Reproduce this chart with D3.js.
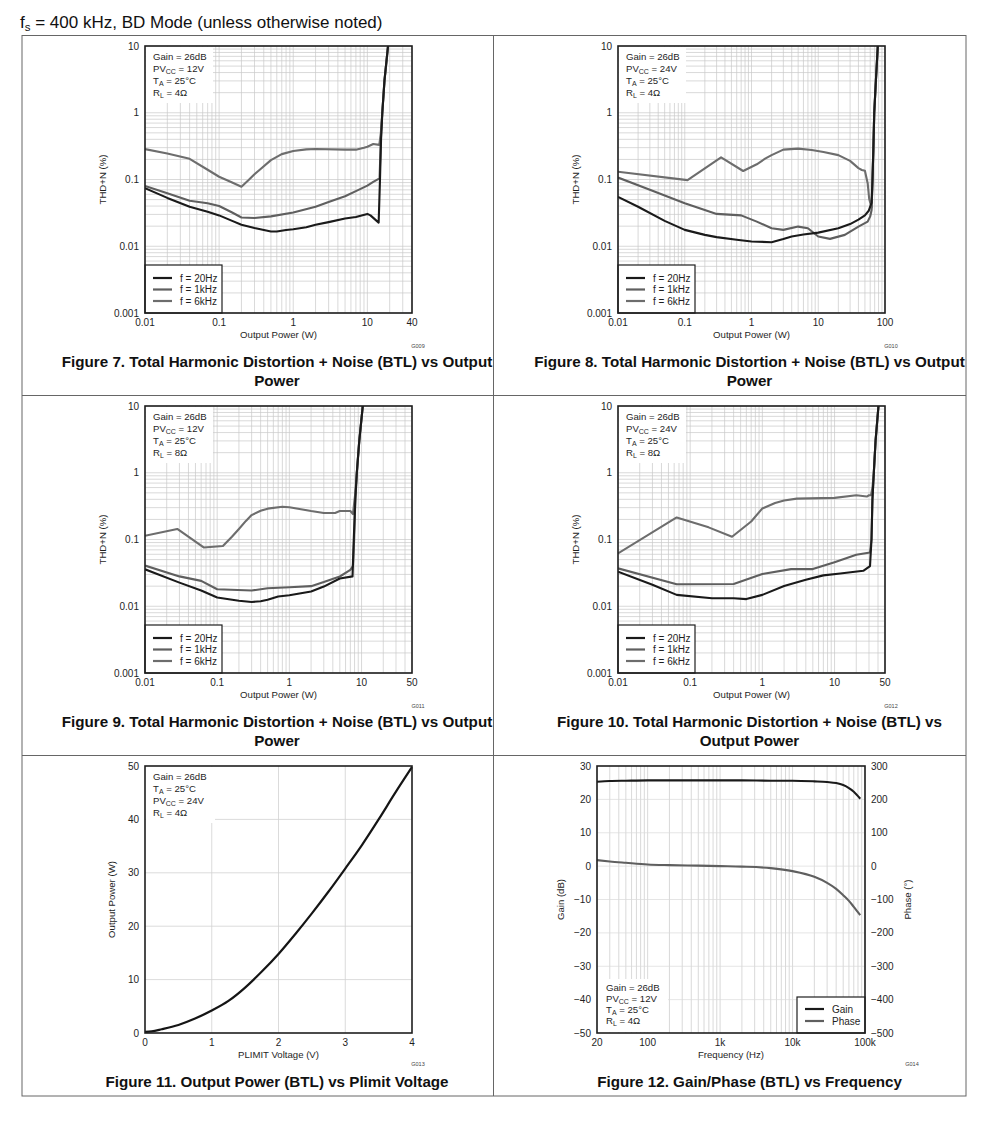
<!DOCTYPE html>
<html><head><meta charset="utf-8">
<script src="https://cdn.jsdelivr.net/npm/d3@7"></script>
<style>
body{margin:0;background:#fff;}
svg{display:block;font-family:"Liberation Sans",Arial,Helvetica,sans-serif;}
</style>
</head><body>
<svg id="c" width="1000" height="1127"></svg>
<script>
// ---------- DATA ----------
const thdTicksY = [0.001, 0.01, 0.1, 1, 10];
const thdTickLabelsY = ["0.001", "0.01", "0.1", "1", "10"];
const fig7TicksX = [0.01, 0.1, 1, 10, 40];
const fig8TicksX = [0.01, 0.1, 1, 10, 100];
const fig9TicksX = [0.01, 0.1, 1, 10, 50];
const fig10TicksX = [0.01, 0.1, 1, 10, 50];
const legendLabels = ["f = 20Hz", "f = 1kHz", "f = 6kHz"];

// Figure 7 (PVcc 12V, RL 4Ω)  [power W, THD+N %]
const fig7_20Hz = [[0.01,0.074],[0.02,0.053],[0.04,0.039],[0.07,0.033],[0.1,0.029],[0.15,0.024],[0.2,0.021],[0.3,0.0188],[0.5,0.0166],[0.6,0.0166],[0.8,0.0175],[1,0.018],[1.5,0.0193],[2,0.021],[3,0.023],[5,0.026],[7,0.0275],[10,0.0305],[11,0.029],[14.2,0.0226],[14.8,0.1],[15.3,0.4],[15.9,1],[17,3],[19,10]];
const fig7_1kHz = [[0.01,0.08],[0.02,0.062],[0.04,0.048],[0.07,0.044],[0.1,0.04],[0.15,0.032],[0.2,0.027],[0.3,0.0265],[0.5,0.028],[1,0.032],[2,0.039],[3,0.046],[5,0.056],[7,0.067],[10,0.081],[12,0.092],[14.6,0.104],[15.2,0.4],[15.9,1],[17,3],[19,10]];
const fig7_6kHz = [[0.01,0.285],[0.02,0.245],[0.04,0.204],[0.07,0.14],[0.1,0.11],[0.15,0.09],[0.2,0.078],[0.25,0.098],[0.3,0.12],[0.35,0.139],[0.5,0.195],[0.7,0.24],[1,0.268],[1.5,0.283],[2,0.286],[5,0.28],[7,0.28],[9,0.3],[10,0.31],[12,0.34],[14.5,0.33],[15.2,0.5],[15.9,1],[17,3],[19,10]];

// Figure 8 (PVcc 24V, RL 4Ω)
const fig8_20Hz = [[0.01,0.055],[0.02,0.039],[0.05,0.024],[0.1,0.0176],[0.2,0.0148],[0.3,0.0137],[0.6,0.0125],[1,0.0118],[2,0.0115],[3,0.0128],[4,0.014],[6,0.015],[10,0.016],[20,0.0186],[30,0.0215],[40,0.025],[50,0.029],[57,0.034],[63,0.045],[65,0.1],[67,0.3],[69,1],[73,3],[78,10]];
const fig8_1kHz = [[0.01,0.107],[0.03,0.07],[0.1,0.044],[0.3,0.0305],[0.7,0.029],[1.2,0.0234],[2,0.0186],[3,0.0176],[5,0.0197],[7,0.0186],[10,0.014],[15,0.0129],[25,0.0148],[40,0.0197],[55,0.0234],[60,0.028],[63,0.035],[65,0.1],[67,0.3],[69,1],[73,3],[78,10]];
const fig8_6kHz = [[0.01,0.131],[0.11,0.098],[0.35,0.215],[0.75,0.134],[1.2,0.169],[1.6,0.205],[2,0.232],[3,0.28],[5,0.29],[8,0.276],[12,0.258],[20,0.232],[30,0.19],[40,0.148],[45,0.139],[50,0.135],[55,0.088],[58,0.051],[63,0.038],[65,0.1],[67,0.3],[69,1],[73,3],[78,10]];

// Figure 9 (PVcc 12V, RL 8Ω)
const fig9_20Hz = [[0.01,0.0358],[0.03,0.0226],[0.06,0.0172],[0.1,0.0135],[0.2,0.0121],[0.3,0.0116],[0.4,0.0119],[0.5,0.0125],[0.7,0.014],[1,0.0146],[2,0.0166],[3,0.0197],[5,0.026],[7.5,0.028],[7.8,0.1],[8.2,0.4],[8.6,1],[9.3,3],[10.4,10]];
const fig9_1kHz = [[0.01,0.0407],[0.03,0.028],[0.06,0.024],[0.1,0.018],[0.3,0.0172],[0.5,0.0186],[1,0.0193],[2,0.02],[3,0.023],[5,0.0279],[7,0.035],[7.6,0.04],[7.9,0.1],[8.2,0.4],[8.6,1],[9.3,3],[10.4,10]];
const fig9_6kHz = [[0.01,0.114],[0.028,0.144],[0.065,0.076],[0.12,0.08],[0.16,0.11],[0.2,0.144],[0.25,0.19],[0.3,0.232],[0.4,0.27],[0.5,0.29],[0.8,0.31],[1,0.305],[2,0.267],[3,0.25],[4.3,0.25],[5,0.267],[7,0.267],[7.6,0.24],[8.2,0.5],[8.6,1],[9.3,3],[10.4,10]];

// Figure 10 (PVcc 24V, RL 8Ω)
const fig10_20Hz = [[0.01,0.033],[0.03,0.021],[0.065,0.0148],[0.2,0.0132],[0.4,0.0132],[0.6,0.0128],[1,0.0148],[2,0.0201],[4,0.025],[7,0.029],[12,0.031],[25,0.034],[31,0.04],[32.5,0.1],[33.5,0.4],[35,1],[37,3],[40.6,10]];
const fig10_1kHz = [[0.01,0.037],[0.065,0.0214],[0.4,0.0216],[1,0.0305],[2.5,0.036],[5,0.036],[10,0.0457],[20,0.059],[31,0.064],[32.5,0.1],[33.5,0.4],[35,1],[37,3],[40.6,10]];
const fig10_6kHz = [[0.01,0.062],[0.065,0.214],[0.18,0.152],[0.38,0.11],[0.7,0.186],[1,0.292],[1.5,0.353],[2,0.385],[3,0.41],[10,0.42],[20,0.46],[28,0.44],[30,0.46],[32,0.46],[33.5,0.6],[35,1],[37,3],[40.6,10]];

// Figure 11 (PLIMIT voltage vs output power)
const plimitVoltage = [0, 0.1, 0.25, 0.5, 0.75, 1, 1.25, 1.5, 1.75, 2, 2.25, 2.5, 2.75, 3, 3.25, 3.5, 3.75, 4];
const plimitPower   = [0.2, 0.3, 0.7, 1.5, 2.7, 4.2, 6.0, 8.5, 11.5, 14.8, 18.5, 22.4, 26.5, 30.8, 35.2, 40, 45, 49.8];
const fig11TicksX = [0, 1, 2, 3, 4];
const fig11TicksY = [0, 10, 20, 30, 40, 50];

// Figure 12 (Gain / Phase vs frequency)
const freqHz   = [20, 30, 50, 100, 200, 500, 1000, 2000, 5000, 10000, 20000, 30000, 40000, 50000, 60000, 70000, 86000];
const gainDb   = [25.3, 25.5, 25.6, 25.7, 25.7, 25.7, 25.7, 25.7, 25.6, 25.6, 25.4, 25.2, 24.9, 24.3, 23.4, 22.3, 20.2];
const phaseDeg = [18, 14, 10, 5, 3, 1.5, 0, -1.5, -6, -15, -32, -50, -68, -87, -104, -122, -147];
const fig12TicksX = [20, 100, 1000, 10000, 100000];
const fig12TickLabelsX = ["20", "100", "1k", "10k", "100k"];
const fig12TicksGain = [-50, -40, -30, -20, -10, 0, 10, 20, 30];
const fig12TicksPhase = [-500, -400, -300, -200, -100, 0, 100, 200, 300];

// ---------- DRAWING ----------
const svg = d3.select("#c");
const INK = "#1e1e1e";
const seriesColors = ["#1a1a1a", "#5f5f5f", "#6d6d6d"];
const GRID = "#c9c9c9";

function minus(v){ return String(v).replace("-", "\u2212"); }

function logGridValues(min, max){
  const out = [];
  for (let d = Math.floor(Math.log10(min)); d <= Math.ceil(Math.log10(max)); d++){
    for (let m = 1; m <= 9; m++){
      const v = m * Math.pow(10, d);
      if (v >= min * 0.9999 && v <= max * 1.0001) out.push(v);
    }
  }
  return out;
}

function annotation(g, x, y0, lines, step){
  lines.forEach((ln, i) => {
    const t = g.append("text").attr("x", x).attr("y", y0 + i * step)
      .attr("font-size", 9.6).attr("fill", INK);
    t.append("tspan").text(ln[0]);
    if (ln[1]) {
      t.append("tspan").attr("font-size", 7).attr("dy", 2).text(ln[1]);
      t.append("tspan").attr("dy", -2).text(ln[2]);
    }
  });
}

function frame(g, L, T, W, H){
  g.append("rect").attr("x", L).attr("y", T).attr("width", W).attr("height", H)
    .attr("fill", "none").attr("stroke", INK).attr("stroke-width", 1.6);
}

function thdPanel(opt){
  const {L, T, W, H, xMax, ticksX, series, cond, gid, ylabX} = opt;
  const g = svg.append("g");
  const x = d3.scaleLog().domain([0.01, xMax]).range([L, L + W]);
  const y = d3.scaleLog().domain([0.001, 10]).range([T + H, T]);
  g.selectAll(null).data(logGridValues(0.01, xMax)).enter().append("line")
    .attr("x1", d => x(d)).attr("x2", d => x(d)).attr("y1", T).attr("y2", T + H)
    .attr("stroke", GRID).attr("stroke-width", 0.7);
  g.selectAll(null).data(logGridValues(0.001, 10)).enter().append("line")
    .attr("y1", d => y(d)).attr("y2", d => y(d)).attr("x1", L).attr("x2", L + W)
    .attr("stroke", GRID).attr("stroke-width", 0.7);
  g.append("rect").attr("x", L + 1).attr("y", T + 1).attr("width", 67).attr("height", 56).attr("fill", "#fff");
  annotation(g, L + 8, T + 14, cond, 12);
  const line = d3.line().x(d => x(d[0])).y(d => y(d[1])).curve(d3.curveLinear);
  const clipId = "clip" + gid;
  svg.append("clipPath").attr("id", clipId).append("rect").attr("x", L).attr("y", T).attr("width", W).attr("height", H);
  const cg = g.append("g").attr("clip-path", `url(#${clipId})`);
  [2, 1, 0].forEach(i => {
    cg.append("path").attr("d", line(series[i])).attr("fill", "none")
      .attr("stroke", seriesColors[i]).attr("stroke-width", 2.1).attr("stroke-linejoin", "round");
  });
  const lg = g.append("g");
  lg.append("rect").attr("x", L).attr("y", T + H - 48).attr("width", 77).attr("height", 48)
    .attr("fill", "#fff").attr("stroke", INK).attr("stroke-width", 1.2);
  legendLabels.forEach((lab, i) => {
    const yy = T + H - 35 + i * 11.5;
    lg.append("line").attr("x1", L + 8).attr("x2", L + 27).attr("y1", yy).attr("y2", yy)
      .attr("stroke", seriesColors[i]).attr("stroke-width", 2.2);
    lg.append("text").attr("x", L + 35).attr("y", yy + 3.5).attr("font-size", 10).attr("fill", INK).text(lab);
  });
  frame(g, L, T, W, H);
  g.selectAll(null).data(thdTicksY).enter().append("text")
    .attr("x", L - 6).attr("y", d => y(d) + 3.5).attr("text-anchor", "end")
    .attr("font-size", 10).attr("fill", INK).text((d, i) => thdTickLabelsY[i]);
  g.selectAll(null).data(ticksX).enter().append("text")
    .attr("x", d => x(d)).attr("y", T + H + 13).attr("text-anchor", "middle")
    .attr("font-size", 10).attr("fill", INK).text(d => String(d));
  g.append("text").attr("x", L + W / 2).attr("y", T + H + 24.5).attr("text-anchor", "middle")
    .attr("font-size", 9.6).attr("fill", INK).text("Output Power (W)");
  g.append("text").attr("transform", `translate(${ylabX},${T + H / 2}) rotate(-90)`)
    .attr("text-anchor", "middle").attr("font-size", 9.6).attr("fill", INK).text("THD+N (%)");
  g.append("text").attr("x", L + W + 6).attr("y", T + H + 35).attr("text-anchor", "middle")
    .attr("font-size", 5.5).attr("fill", "#444").text(gid);
}

function caption(cx, y, lines){
  lines.forEach((t, i) => {
    svg.append("text").attr("x", cx).attr("y", y + i * 19).attr("text-anchor", "middle")
      .attr("font-size", 15.2).attr("font-weight", "bold").attr("fill", "#111").text(t);
  });
}

// page title
const title = svg.append("text").attr("x", 20).attr("y", 28).attr("font-size", 17).attr("fill", "#111");
title.append("tspan").text("f");
title.append("tspan").attr("font-size", 11.5).attr("dy", 3).text("s");
title.append("tspan").attr("dy", -3).text(" = 400 kHz, BD Mode (unless otherwise noted)");

// table frame
const tbl = svg.append("g").attr("stroke", "#666").attr("stroke-width", 1).attr("fill", "none");
tbl.append("rect").attr("x", 22).attr("y", 35.5).attr("width", 944).attr("height", 1060.5);
tbl.append("line").attr("x1", 493.5).attr("x2", 493.5).attr("y1", 35.5).attr("y2", 1096);
tbl.append("line").attr("x1", 22).attr("x2", 966).attr("y1", 395.5).attr("y2", 395.5);
tbl.append("line").attr("x1", 22).attr("x2", 966).attr("y1", 755.5).attr("y2", 755.5);

const c12_4 = [["Gain = 26dB"], ["PV", "CC", " = 12V"], ["T", "A", " = 25°C"], ["R", "L", " = 4Ω"]];
const c24_4 = [["Gain = 26dB"], ["PV", "CC", " = 24V"], ["T", "A", " = 25°C"], ["R", "L", " = 4Ω"]];
const c12_8 = [["Gain = 26dB"], ["PV", "CC", " = 12V"], ["T", "A", " = 25°C"], ["R", "L", " = 8Ω"]];
const c24_8 = [["Gain = 26dB"], ["PV", "CC", " = 24V"], ["T", "A", " = 25°C"], ["R", "L", " = 8Ω"]];

thdPanel({L:145, T:46, W:267, H:267, xMax:40, ticksX:fig7TicksX, series:[fig7_20Hz, fig7_1kHz, fig7_6kHz], cond:c12_4, gid:"G009", ylabX:106});
thdPanel({L:618, T:46, W:267, H:267, xMax:100, ticksX:fig8TicksX, series:[fig8_20Hz, fig8_1kHz, fig8_6kHz], cond:c24_4, gid:"G010", ylabX:579});
thdPanel({L:145, T:406, W:267, H:267, xMax:50, ticksX:fig9TicksX, series:[fig9_20Hz, fig9_1kHz, fig9_6kHz], cond:c12_8, gid:"G011", ylabX:106});
thdPanel({L:618, T:406, W:267, H:267, xMax:50, ticksX:fig10TicksX, series:[fig10_20Hz, fig10_1kHz, fig10_6kHz], cond:c24_8, gid:"G012", ylabX:579});

caption(277, 367, ["Figure 7. Total Harmonic Distortion + Noise (BTL) vs Output", "Power"]);
caption(749.5, 367, ["Figure 8. Total Harmonic Distortion + Noise (BTL) vs Output", "Power"]);
caption(277, 727, ["Figure 9. Total Harmonic Distortion + Noise (BTL) vs Output", "Power"]);
caption(749.5, 727, ["Figure 10. Total Harmonic Distortion + Noise (BTL) vs", "Output Power"]);
caption(277, 1087, ["Figure 11. Output Power (BTL) vs Plimit Voltage"]);
caption(749.5, 1087, ["Figure 12. Gain/Phase (BTL) vs Frequency"]);

// ---- Figure 11 ----
(function(){
  const L = 145, T = 766, W = 267, H = 267;
  const g = svg.append("g");
  const x = d3.scaleLinear().domain([0, 4]).range([L, L + W]);
  const y = d3.scaleLinear().domain([0, 50]).range([T + H, T]);
  g.selectAll(null).data([1, 2, 3]).enter().append("line")
    .attr("x1", d => x(d)).attr("x2", d => x(d)).attr("y1", T).attr("y2", T + H)
    .attr("stroke", "#d2d2d2").attr("stroke-width", 0.8);
  g.selectAll(null).data([10, 20, 30, 40]).enter().append("line")
    .attr("y1", d => y(d)).attr("y2", d => y(d)).attr("x1", L).attr("x2", L + W)
    .attr("stroke", "#d2d2d2").attr("stroke-width", 0.8);
  g.append("rect").attr("x", L + 1).attr("y", T + 1).attr("width", 69).attr("height", 56).attr("fill", "#fff");
  annotation(g, L + 8, T + 14, [["Gain = 26dB"], ["T", "A", " = 25°C"], ["PV", "CC", " = 24V"], ["R", "L", " = 4Ω"]], 12);
  const pts = plimitVoltage.map((v, i) => [v, plimitPower[i]]);
  g.append("path").attr("d", d3.line().x(d => x(d[0])).y(d => y(d[1])).curve(d3.curveMonotoneX)(pts))
    .attr("fill", "none").attr("stroke", "#151515").attr("stroke-width", 2.2);
  frame(g, L, T, W, H);
  g.selectAll(null).data(fig11TicksY).enter().append("text")
    .attr("x", L - 6).attr("y", d => y(d) + 3.5).attr("text-anchor", "end")
    .attr("font-size", 10).attr("fill", INK).text(d => d);
  g.selectAll(null).data(fig11TicksX).enter().append("text")
    .attr("x", d => x(d)).attr("y", T + H + 13).attr("text-anchor", "middle")
    .attr("font-size", 10).attr("fill", INK).text(d => d);
  g.append("text").attr("x", L + W / 2).attr("y", T + H + 24.5).attr("text-anchor", "middle")
    .attr("font-size", 9.6).attr("fill", INK).text("PLIMIT Voltage (V)");
  g.append("text").attr("transform", `translate(${115},${T + H / 2}) rotate(-90)`)
    .attr("text-anchor", "middle").attr("font-size", 9.6).attr("fill", INK).text("Output Power (W)");
  g.append("text").attr("x", L + W + 6).attr("y", T + H + 33).attr("text-anchor", "middle")
    .attr("font-size", 5.5).attr("fill", "#444").text("G013");
})();

// ---- Figure 12 ----
(function(){
  const L = 597, T = 766, W = 268, H = 267;
  const g = svg.append("g");
  const x = d3.scaleLog().domain([20, 100000]).range([L, L + W]);
  const yG = d3.scaleLinear().domain([-50, 30]).range([T + H, T]);
  const yP = d3.scaleLinear().domain([-500, 300]).range([T + H, T]);
  g.selectAll(null).data(logGridValues(20, 100000)).enter().append("line")
    .attr("x1", d => x(d)).attr("x2", d => x(d)).attr("y1", T).attr("y2", T + H)
    .attr("stroke", GRID).attr("stroke-width", 0.7);
  g.selectAll(null).data(fig12TicksGain.slice(1, -1)).enter().append("line")
    .attr("y1", d => yG(d)).attr("y2", d => yG(d)).attr("x1", L).attr("x2", L + W)
    .attr("stroke", "#dadada").attr("stroke-width", 0.7);
  g.append("rect").attr("x", L + 1).attr("y", T + H - 54).attr("width", 70).attr("height", 53).attr("fill", "#fff");
  annotation(g, L + 9, T + H - 42.5, [["Gain = 26dB"], ["PV", "CC", " = 12V"], ["T", "A", " = 25°C"], ["R", "L", " = 4Ω"]], 11.2);
  const gainPts = freqHz.map((f, i) => [f, gainDb[i]]);
  const phasePts = freqHz.map((f, i) => [f, phaseDeg[i]]);
  g.append("path").attr("d", d3.line().x(d => x(d[0])).y(d => yP(d[1])).curve(d3.curveMonotoneX)(phasePts))
    .attr("fill", "none").attr("stroke", "#5f5f5f").attr("stroke-width", 2.1);
  g.append("path").attr("d", d3.line().x(d => x(d[0])).y(d => yG(d[1])).curve(d3.curveMonotoneX)(gainPts))
    .attr("fill", "none").attr("stroke", "#1a1a1a").attr("stroke-width", 2.1);
  g.append("rect").attr("x", L + W - 68).attr("y", T + H - 36).attr("width", 68).attr("height", 36)
    .attr("fill", "#fff").attr("stroke", INK).attr("stroke-width", 1.2);
  [["Gain", "#1a1a1a"], ["Phase", "#5f5f5f"]].forEach((d, i) => {
    const yy = T + H - 24 + i * 12;
    g.append("line").attr("x1", L + W - 60).attr("x2", L + W - 41).attr("y1", yy).attr("y2", yy)
      .attr("stroke", d[1]).attr("stroke-width", 2.2);
    g.append("text").attr("x", L + W - 33).attr("y", yy + 3.5).attr("font-size", 10).attr("fill", INK).text(d[0]);
  });
  frame(g, L, T, W, H);
  g.selectAll(null).data(fig12TicksGain).enter().append("text")
    .attr("x", L - 6).attr("y", d => yG(d) + 3.5).attr("text-anchor", "end")
    .attr("font-size", 10).attr("fill", INK).text(d => minus(d));
  g.selectAll(null).data(fig12TicksPhase).enter().append("text")
    .attr("x", L + W + 6).attr("y", d => yP(d) + 3.5).attr("text-anchor", "start")
    .attr("font-size", 10).attr("fill", INK).text(d => minus(d));
  g.selectAll(null).data(fig12TicksX).enter().append("text")
    .attr("x", d => x(d)).attr("y", T + H + 13).attr("text-anchor", "middle")
    .attr("font-size", 10).attr("fill", INK).text((d, i) => fig12TickLabelsX[i]);
  g.append("text").attr("x", L + W / 2).attr("y", T + H + 24.5).attr("text-anchor", "middle")
    .attr("font-size", 9.6).attr("fill", INK).text("Frequency (Hz)");
  g.append("text").attr("transform", `translate(${564},${T + H / 2}) rotate(-90)`)
    .attr("text-anchor", "middle").attr("font-size", 9.6).attr("fill", INK).text("Gain (dB)");
  g.append("text").attr("transform", `translate(${911},${T + H / 2}) rotate(-90)`)
    .attr("text-anchor", "middle").attr("font-size", 9.6).attr("fill", INK).text("Phase (°)");
  g.append("text").attr("x", 912).attr("y", T + H + 33).attr("text-anchor", "middle")
    .attr("font-size", 5.5).attr("fill", "#444").text("G014");
})();
</script>
</body></html>
